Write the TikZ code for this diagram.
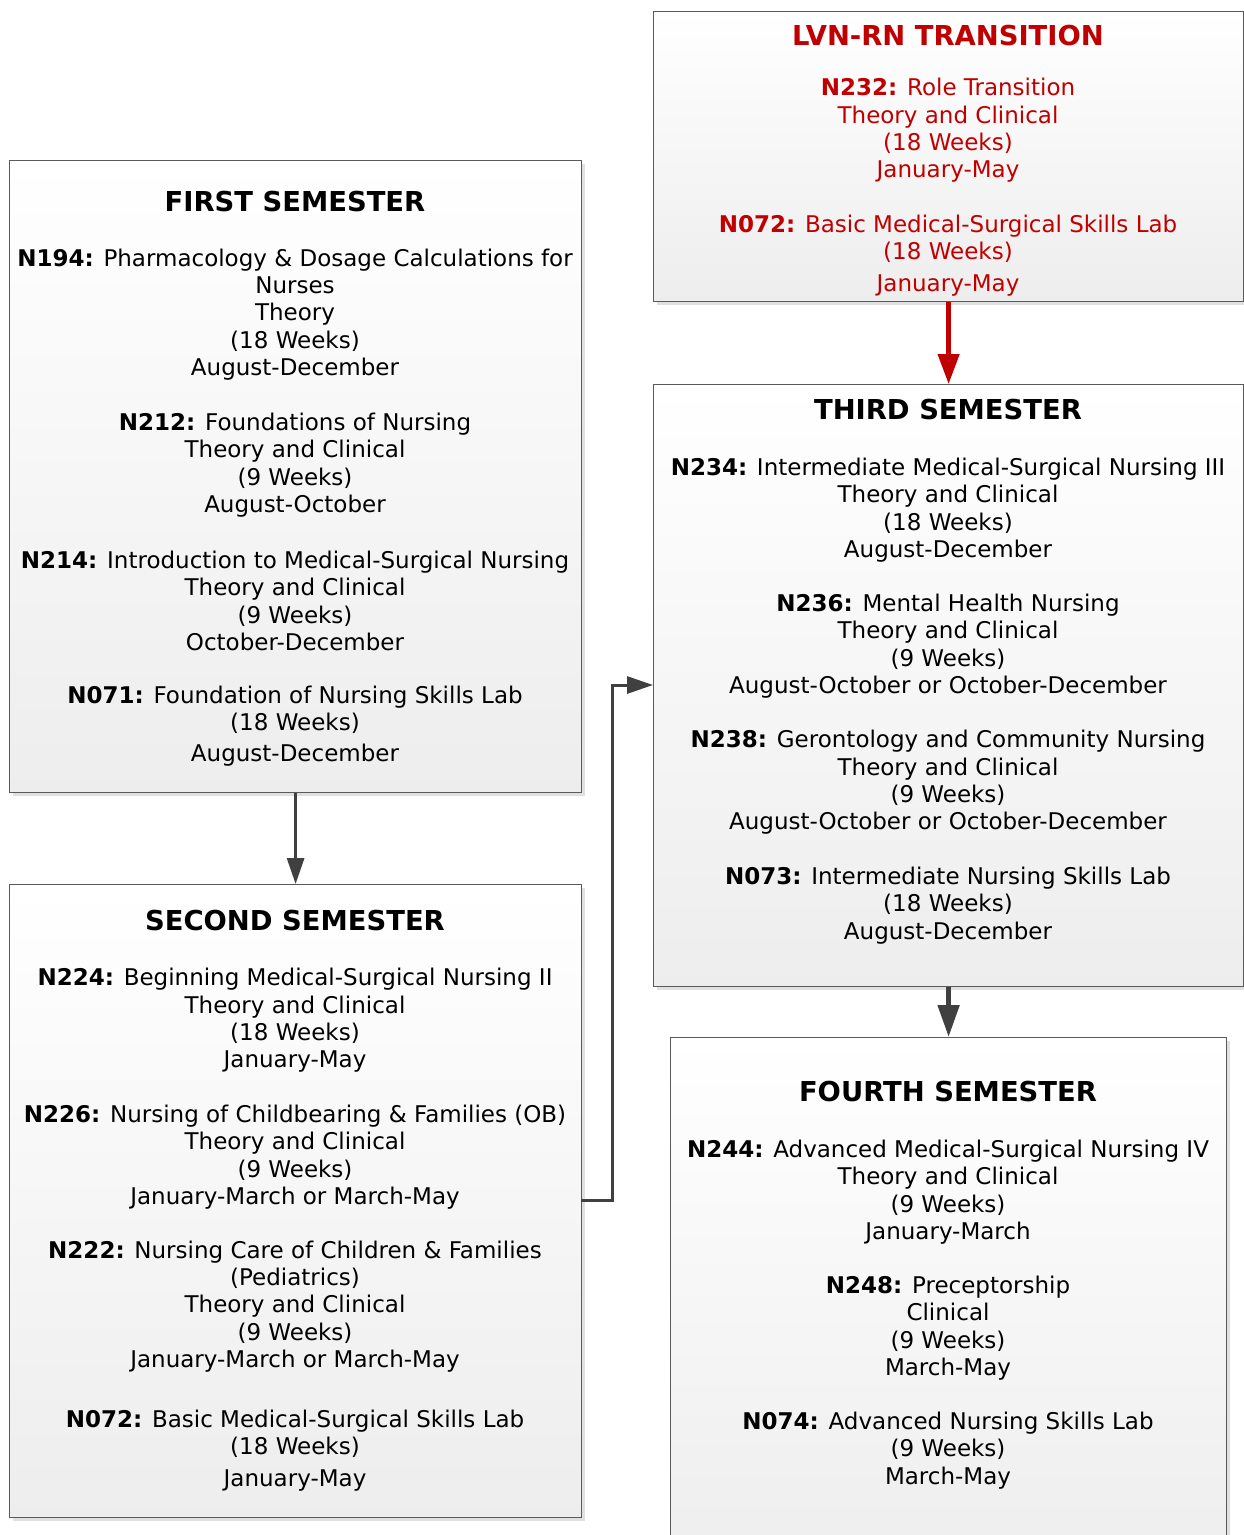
\documentclass[tikz,border=0pt]{standalone}
\usepackage{fontspec}
\setmainfont{DejaVu Sans}
\usetikzlibrary{shadows,arrows.meta}
\definecolor{lvnred}{HTML}{C00000}
\definecolor{arrowgray}{HTML}{404040}
\definecolor{boxedge}{HTML}{5A5A5A}
\tikzset{
  sembox/.style={draw=boxedge, line width=1.2pt, top color=white, bottom color=black!7,
    inner sep=0pt, anchor=north west,
    drop shadow={shadow xshift=3pt, shadow yshift=-3pt, fill=black!12, opacity=1}},
  bodytxt/.style={align=center, inner sep=0pt, yshift=-2pt, font=\fontsize{23}{27.3}\selectfont},
  titletxt/.style={inner sep=0pt, yshift=-1pt, font=\fontsize{27.4}{32}\selectfont\bfseries},
  conn/.style={draw=arrowgray, line width=3pt, -{Triangle[length=26pt,width=17pt]}},
  redconn/.style={draw=lvnred, line width=4.5pt, -{Triangle[length=30pt,width=21pt]}},
}
\begin{document}
\begin{tikzpicture}[x=1pt,y=-1pt]
\useasboundingbox[fill=white] (0,0) rectangle (1244,1535);

% boxes
\node[sembox, minimum width=590pt, minimum height=290pt] (lvn) at (653,11) {};
\node[sembox, minimum width=572pt, minimum height=632pt] (s1) at (9,160) {};
\node[sembox, minimum width=572pt, minimum height=633pt] (s2) at (9,884) {};
\node[sembox, minimum width=590pt, minimum height=602pt] (s3) at (653,384) {};
\node[sembox, minimum width=556pt, minimum height=540pt] (s4) at (670,1037) {};

% LVN-RN
\node[titletxt, text=lvnred] (lvnT) at (948,35) {LVN-RN TRANSITION};
\node[bodytxt, text=lvnred] (lvnA) at (948,128.5) {\textbf{N232:} Role Transition\\Theory and Clinical\\(18 Weeks)\\January-May};
\node[bodytxt, text=lvnred] (lvnB) at (948,253.5) {\textbf{N072:} Basic Medical-Surgical Skills Lab\\(18 Weeks)\\[4pt]January-May};

% First
\node[titletxt] (s1T) at (295,201) {FIRST SEMESTER};
\node[bodytxt] (s1A) at (295,312.5) {\textbf{N194:} Pharmacology \& Dosage Calculations for\\Nurses\\Theory\\(18 Weeks)\\August-December};
\node[bodytxt] (s1B) at (295,463) {\textbf{N212:} Foundations of Nursing\\Theory and Clinical\\(9 Weeks)\\August-October};
\node[bodytxt] (s1C) at (295,599) {\textbf{N214:} Introduction to Medical-Surgical Nursing\\Theory and Clinical\\(9 Weeks)\\October-December};
\node[bodytxt] (s1D) at (295,724) {\textbf{N071:} Foundation of Nursing Skills Lab\\(18 Weeks)\\[4pt]August-December};

% Second
\node[titletxt] (s2T) at (295,920) {SECOND SEMESTER};
\node[bodytxt] (s2A) at (295,1018.5) {\textbf{N224:} Beginning Medical-Surgical Nursing II\\Theory and Clinical\\(18 Weeks)\\January-May};
\node[bodytxt] (s2B) at (295,1155) {\textbf{N226:} Nursing of Childbearing \& Families (OB)\\Theory and Clinical\\(9 Weeks)\\January-March or March-May};
\node[bodytxt] (s2C) at (295,1304.5) {\textbf{N222:} Nursing Care of Children \& Families\\(Pediatrics)\\Theory and Clinical\\(9 Weeks)\\January-March or March-May};
\node[bodytxt] (s2D) at (295,1448.5) {\textbf{N072:} Basic Medical-Surgical Skills Lab\\(18 Weeks)\\[4pt]January-May};

% Third
\node[titletxt] (s3T) at (948,409) {THIRD SEMESTER};
\node[bodytxt] (s3A) at (948,508) {\textbf{N234:} Intermediate Medical-Surgical Nursing III\\Theory and Clinical\\(18 Weeks)\\August-December};
\node[bodytxt] (s3B) at (948,644) {\textbf{N236:} Mental Health Nursing\\Theory and Clinical\\(9 Weeks)\\August-October or October-December};
\node[bodytxt] (s3C) at (948,780.5) {\textbf{N238:} Gerontology and Community Nursing\\Theory and Clinical\\(9 Weeks)\\August-October or October-December};
\node[bodytxt] (s3D) at (948,903.5) {\textbf{N073:} Intermediate Nursing Skills Lab\\(18 Weeks)\\August-December};

% Fourth
\node[titletxt] (s4T) at (948,1091) {FOURTH SEMESTER};
\node[bodytxt] (s4A) at (948,1190) {\textbf{N244:} Advanced Medical-Surgical Nursing IV\\Theory and Clinical\\(9 Weeks)\\January-March};
\node[bodytxt] (s4B) at (948,1326) {\textbf{N248:} Preceptorship\\Clinical\\(9 Weeks)\\March-May};
\node[bodytxt] (s4C) at (948,1448.5) {\textbf{N074:} Advanced Nursing Skills Lab\\(9 Weeks)\\March-May};

% connectors
\draw[conn] (s1.south) -- (s2.north);
\draw[redconn] (lvn.south) -- (s3.north);
\draw[conn, line width=5pt, -{Triangle[length=32pt,width=21pt]}] (s3.south) -- (s4.north);
\coordinate (jA) at (581,1200);
\coordinate (jB) at (653,685);
\draw[conn] (jA) -- (612,1200) -- (612,685) -- (jB);
\end{tikzpicture}
\end{document}
